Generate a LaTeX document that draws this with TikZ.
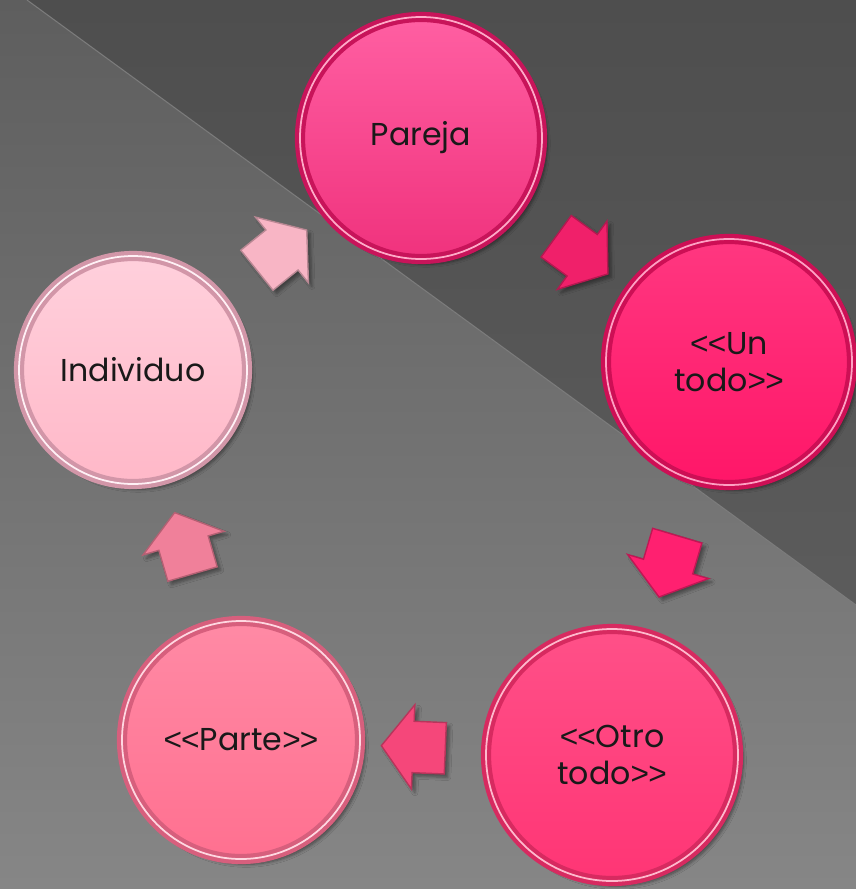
\documentclass[tikz,border=0pt]{standalone}
\usepackage{fontspec}
\newfontfamily\gothic{Poppins}
\newfontfamily\signos[Ligatures=NoCommon]{Liberation Sans}
\newcommand\menores{{\signos<\kern-0.5pt<}}
\newcommand\mayores{{\signos>\kern-0.5pt>}}
\usetikzlibrary{shapes.arrows,shadows.blur}

\definecolor{fondoalto}{HTML}{4E4E4E}
\definecolor{fondobajo}{HTML}{626262}
\definecolor{grisalto}{HTML}{5E5E5E}
\definecolor{grisbajo}{HTML}{868686}
\definecolor{raya}{HTML}{7C7C7C}
% caras, bordes
\definecolor{parejaA}{RGB}{255,95,162}   \definecolor{parejaB}{RGB}{240,50,125}
\definecolor{parejaC}{RGB}{200,20,90}    \definecolor{parejaD}{RGB}{255,170,200}
\definecolor{untodoA}{RGB}{255,55,128}   \definecolor{untodoB}{RGB}{255,22,104}
\definecolor{untodoC}{RGB}{205,15,85}    \definecolor{untodoD}{RGB}{255,160,195}
\definecolor{otroA}{RGB}{255,80,136}     \definecolor{otroB}{RGB}{255,53,117}
\definecolor{otroC}{RGB}{215,42,96}      \definecolor{otroD}{RGB}{255,185,205}
\definecolor{parteA}{RGB}{255,138,165}   \definecolor{parteB}{RGB}{255,112,144}
\definecolor{parteC}{RGB}{215,95,125}    \definecolor{parteD}{RGB}{255,215,225}
\definecolor{indivA}{RGB}{255,208,220}   \definecolor{indivB}{RGB}{255,184,200}
\definecolor{indivC}{RGB}{210,150,168}   \definecolor{indivD}{RGB}{255,240,245}
% flechas
\definecolor{flechaA}{RGB}{240,32,106}
\definecolor{flechaB}{RGB}{255,32,112}
\definecolor{flechaC}{RGB}{245,71,122}
\definecolor{flechaD}{RGB}{240,128,154}
\definecolor{flechaE}{RGB}{248,181,197}

\begin{document}
\begin{tikzpicture}[
  bola/.style={circle, minimum size=#1, inner sep=0pt, align=center,
    font=\gothic\fontsize{18}{21}\selectfont, text=black!90,
    line width=2.4pt, double distance=1pt,
    blur shadow={shadow xshift=3pt, shadow yshift=-3pt, shadow opacity=45, shadow blur steps=6}},
  tono/.style={top color=#1A, bottom color=#1B, draw=#1C, double=#1D},
  flecha/.style={single arrow, fill=#1, draw=#1!75!black, line width=0.8pt,
    minimum height=1.28cm, inner xsep=0pt, inner ysep=0.5cm,
    single arrow head extend=0.33cm, single arrow tip angle=106,
    blur shadow={shadow xshift=2pt, shadow yshift=-2pt, shadow opacity=40, shadow blur steps=5}}
]
% Fondo
\useasboundingbox (0,0) rectangle (17.12,-17.78);
\fill[top color=fondoalto, bottom color=fondobajo] (0,0) rectangle (17.12,-17.78);
\fill[top color=grisalto, bottom color=grisbajo] (0.54,0) -- (17.12,-12.10) -- (17.12,-17.78) -- (0,-17.78) -- (0,0) -- cycle;
\draw[raya, line width=0.6pt] (0.54,0) -- (17.12,-12.10);

% Circulos
\node[bola=4.84cm, tono=pareja] (pareja) at (8.42,-2.76) {Pareja};
\node[bola=4.92cm, tono=untodo] (untodo) at (14.58,-7.24) {\menores Un\\todo\mayores};
\node[bola=5.04cm, tono=otro] (otrotodo) at (12.24,-15.10) {\menores Otro\\todo\mayores};
\node[bola=4.76cm, tono=parte] (parte) at (4.82,-14.80) {\menores Parte\mayores};
\node[bola=4.56cm, tono=indiv] (individuo) at (2.66,-7.40) {Individuo};

% Flechas
\path (pareja) -- (untodo) node[midway, sloped, allow upside down, flecha=flechaA] (f1) {};
\path (untodo) -- (otrotodo) node[midway, sloped, allow upside down, flecha=flechaB] (f2) {};
\path (otrotodo) -- (parte) node[midway, sloped, allow upside down, flecha=flechaC] (f3) {};
\path (parte) -- (individuo) node[midway, sloped, allow upside down, flecha=flechaD] (f4) {};
\path (individuo) -- (pareja) node[midway, sloped, allow upside down, flecha=flechaE] (f5) {};

\end{tikzpicture}
\end{document}
